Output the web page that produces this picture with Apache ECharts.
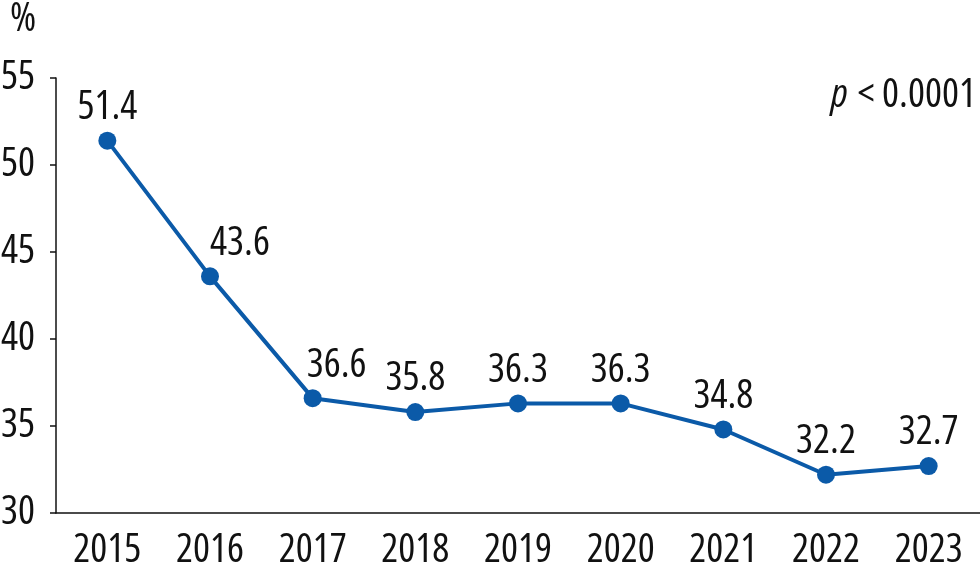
<!DOCTYPE html>
<html><head><meta charset="utf-8">
<script src="https://cdn.jsdelivr.net/npm/echarts@6/dist/echarts.min.js"></script>
<style>html,body{margin:0;padding:0;background:#fff}#c{width:980px;height:576px}</style>
</head><body><div id="c"></div>
<script>
const years = ['2015','2016','2017','2018','2019','2020','2021','2022','2023'];
const values = [51.4, 43.6, 36.6, 35.8, 36.3, 36.3, 34.8, 32.2, 32.7];
const yTicks = [30, 35, 40, 45, 50, 55];
const FONT = '"Open Sans", Roboto, sans-serif';
const FS = 40;
const txt = {color: '#111', fontSize: FS, fontFamily: FONT, fontStyle: 'condensed'};
const labelShift = {1: 30, 2: 24};
const chart = echarts.init(document.getElementById('c'));
chart.setOption({
  animation: false,
  grid: {left: 56, top: 78, right: 0, bottom: 63, containLabel: false, outerBoundsMode: 'none'},
  graphic: [
    {type: 'text', left: 10, top: 0, style: {text: '%', font: 'condensed ' + FS + 'px ' + FONT, fill: '#111'}},
    {type: 'text', right: 4, top: 76, style: {
      rich: {
        i: {fontStyle: 'italic condensed', fontSize: FS, fontFamily: FONT, fill: '#111', padding: [0, 10, 0, 0]},
        n: {fontStyle: 'condensed', fontSize: FS, fontFamily: FONT, fill: '#111'}
      },
      text: '{i|p}{n|< 0.0001}'}}
  ],
  xAxis: {
    type: 'category', data: years, boundaryGap: true,
    axisLine: {lineStyle: {color: '#111', width: 1.5}},
    axisTick: {alignWithLabel: true, length: 6, lineStyle: {color: '#111', width: 1.5}},
    axisLabel: Object.assign({interval: 0, margin: 18, hideOverlap: false}, txt)
  },
  yAxis: {
    type: 'value', min: yTicks[0], max: yTicks[yTicks.length-1], interval: 5,
    splitLine: {show: false},
    axisLine: {show: true, lineStyle: {color: '#111', width: 1.5}},
    axisTick: {show: true, length: 6, lineStyle: {color: '#111', width: 1.5}},
    axisLabel: Object.assign({margin: 21}, txt)
  },
  series: [{
    type: 'line',
    data: values.map((v, i) => labelShift[i] ? {value: v, label: {offset: [labelShift[i], 0]}} : v),
    symbol: 'circle', symbolSize: 18,
    lineStyle: {color: '#0b5aa8', width: 4},
    itemStyle: {color: '#0b5aa8'},
    label: Object.assign({show: true, position: 'top', distance: 4}, txt)
  }]
});
</script></body></html>
